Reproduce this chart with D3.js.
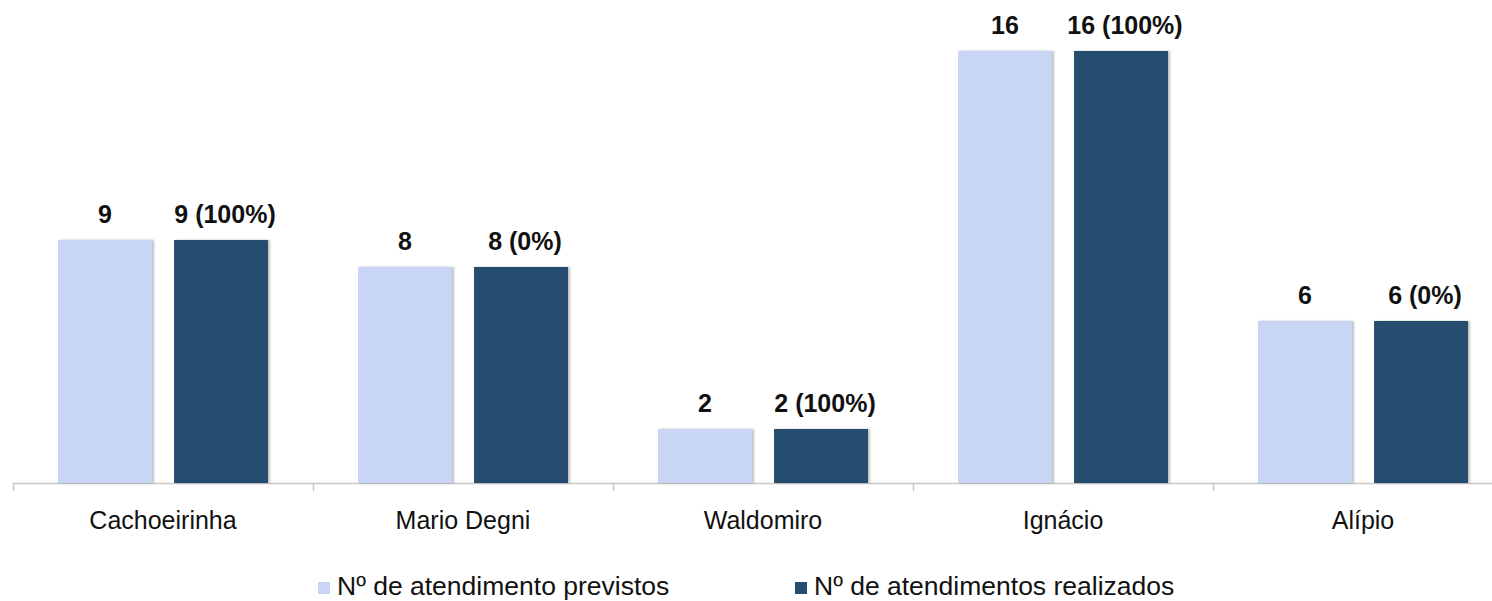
<!DOCTYPE html>
<html><head><meta charset="utf-8">
<script src="https://cdn.jsdelivr.net/npm/d3@7"></script>
<style>body{margin:0;background:#fff}svg{display:block}</style>
</head><body>
<script>
const categories = ["Cachoeirinha","Mario Degni","Waldomiro","Ignácio","Alípio"];
const previstos = [9, 8, 2, 16, 6];
const realizados = [9, 8, 2, 16, 6];
const realizadosLabels = ["9 (100%)","8 (0%)","2 (100%)","16 (100%)","6 (0%)"];
const seriesNames = ["Nº de atendimento previstos","Nº de atendimentos realizados"];
const colors = ["#c8d5f4","#264e70"];

const W = 1492, H = 601;
const svg = d3.select("body").append("svg").attr("width", W).attr("height", H);
const defs = svg.append("defs");
const f = defs.append("filter").attr("id","sh").attr("x","-10%").attr("y","-10%").attr("width","130%").attr("height","120%");
f.append("feDropShadow").attr("dx",2).attr("dy",0).attr("stdDeviation",1.2).attr("flood-color","#000").attr("flood-opacity",0.25);

const x0 = 13, bandW = 300;
const x = d3.scaleBand().domain(categories).range([x0, x0 + bandW * categories.length]).paddingInner(0).paddingOuter(0);
const xs = d3.scaleBand().domain([0,1]).range([45, 255]).paddingInner(0.19);
const y = d3.scaleLinear().domain([0, 16]).range([483, 51]);

const font = "'Liberation Sans', Arial, sans-serif";

// axis
const ax = svg.append("g");
ax.append("line").attr("x1", x0).attr("x2", W).attr("y1", 483.5).attr("y2", 483.5).attr("stroke","#c8c8c8").attr("stroke-width",1.5);
categories.forEach((c,i)=>{
  ax.append("line").attr("x1", x(c)+0.5).attr("x2", x(c)+0.5).attr("y1",483).attr("y2",491).attr("stroke","#c8c8c8").attr("stroke-width",1.5);
});

const g = svg.append("g");
categories.forEach((c,i)=>{
  const vals = [previstos[i], realizados[i]];
  const labs = [String(previstos[i]), realizadosLabels[i]];
  vals.forEach((v,j)=>{
    const bx = x(c) + xs(j);
    g.append("rect").attr("x", bx).attr("y", y(v)).attr("width", xs.bandwidth()).attr("height", y(0)-y(v))
      .attr("fill", colors[j]).attr("filter","url(#sh)");
    g.append("text").attr("x", bx + xs.bandwidth()/2 + (j===1?4:0)).attr("y", y(v) - 17)
      .attr("text-anchor","middle").attr("font-family",font).attr("font-weight","bold").attr("font-size",25)
      .attr("fill","#111").text(labs[j]);
  });
  g.append("text").attr("x", x(c) + bandW/2).attr("y", 529).attr("text-anchor","middle")
    .attr("font-family",font).attr("font-size",25).attr("fill","#111").text(c);
});

// legend
const leg = svg.append("g");
const legX = [318, 795];
seriesNames.forEach((n,i)=>{
  leg.append("rect").attr("x", legX[i]).attr("y", 582).attr("width",12).attr("height",12).attr("fill",colors[i]);
  leg.append("text").attr("x", legX[i]+19).attr("y", 595).attr("font-family",font).attr("font-size",26.5)
    .attr("fill","#111").text(n);
});
</script>
</body></html>
